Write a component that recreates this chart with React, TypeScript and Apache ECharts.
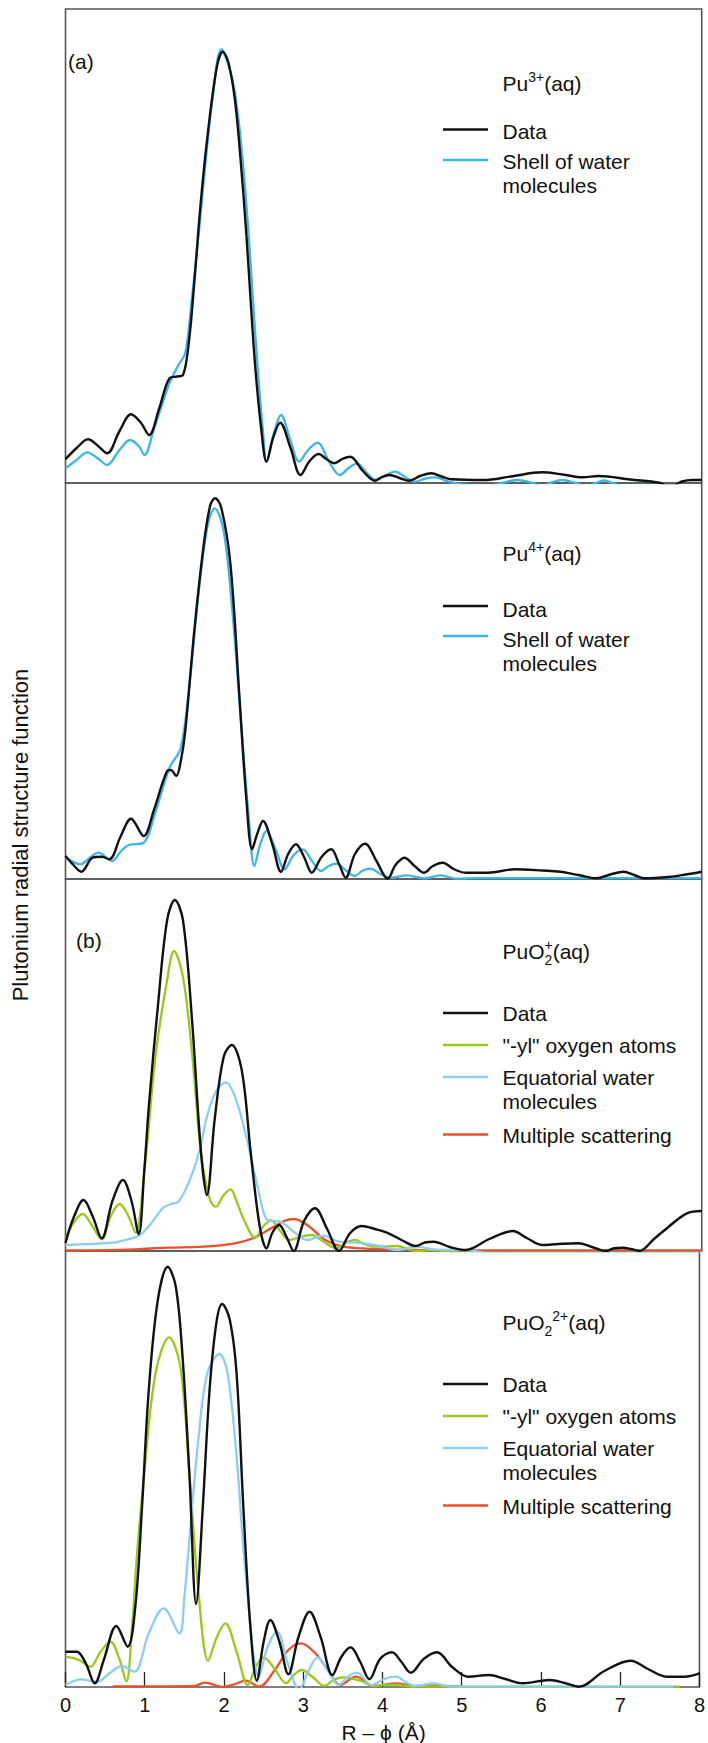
import React, { useEffect, useRef } from "react";
import * as echarts from "echarts";

const W = 708;
const H = 1743;
const FONT = '"Liberation Sans", Arial, Helvetica, sans-serif';

// x axis (R - phi, Å)
const X_MIN = 0;
const X_MAX = 8;
const X_TICK_STEP = 1;

// ---------- Panel 1: Pu3+(aq) ----------
const pu3Data: [number, number][] = [
  [0, 23.7], [0.14, 35], [0.284, 43.7], [0.41, 37], [0.523, 29.7], [0.68, 52], [0.824, 68.7], [0.95, 60],
  [1.051, 48], [1.18, 75], [1.307, 104.7], [1.4, 106.5], [1.477, 108], [1.55, 140], [1.619, 200], [1.7, 280],
  [1.79, 350], [1.903, 416], [1.977, 431.3], [2.05, 420], [2.131, 383], [2.2, 325], [2.273, 250], [2.33, 180],
  [2.386, 116], [2.46, 55], [2.528, 21.3], [2.61, 45], [2.699, 60.3], [2.83, 35], [2.955, 8], [3.07, 22],
  [3.182, 29], [3.28, 24], [3.381, 19.7], [3.48, 24], [3.58, 26.3], [3.74, 12], [3.892, 2.3], [3.98, 6],
  [4.074, 8], [4.2, 5], [4.318, 2.3], [4.46, 7], [4.602, 9.7], [4.73, 6.5], [4.858, 3.7], [5.256, 3],
  [5.6, 6.5], [5.994, 10.7], [6.25, 8.5], [6.506, 5.7], [6.705, 7], [7.1, 3.5], [7.472, 0.3], [7.55, -2.5],
  [7.64, -2.5], [7.75, 1.5], [7.88, 3], [8, 3],
];
const pu3Shell: [number, number][] = [
  [0, 14.7], [0.14, 23], [0.273, 30.7], [0.4, 25], [0.523, 18], [0.67, 32], [0.813, 43], [0.92, 37],
  [0.994, 28], [1.108, 53], [1.2, 75], [1.307, 99.7], [1.42, 118], [1.506, 130], [1.59, 185], [1.676, 250],
  [1.76, 320], [1.847, 383], [1.96, 433.7], [2.05, 418], [2.131, 390], [2.22, 330], [2.301, 250], [2.36, 180],
  [2.415, 116], [2.48, 55], [2.528, 21.3], [2.62, 50], [2.71, 68], [2.82, 45], [2.938, 21.3], [3.05, 33],
  [3.17, 40.3], [3.31, 22], [3.449, 8], [3.56, 15], [3.665, 19.7], [3.79, 10], [3.903, 3], [4.03, 8],
  [4.148, 11.3], [4.27, 6], [4.392, 1.3], [4.53, 4.5], [4.659, 5.7], [4.77, 2.5], [4.858, 0.7], [5.0, -1.5],
  [5.3, -3], [5.5, 0.3], [5.68, 3], [5.86, 0.3], [6.0, -3], [6.1, 0.3], [6.25, 3], [6.4, 0.3], [6.55, -3],
  [6.68, 0.3], [6.77, 2.5], [6.87, 0.3], [7.0, -3], [8, -3],
];

// ---------- Panel 2: Pu4+(aq) ----------
const pu4Data: [number, number][] = [
  [0, 23], [0.1, 14], [0.199, 7.3], [0.341, 21.3], [0.455, 22.3], [0.551, 19.7], [0.69, 42], [0.824, 60.3],
  [0.983, 43], [1.108, 68], [1.278, 108], [1.324, 109], [1.392, 103], [1.45, 118], [1.506, 148], [1.619, 248],
  [1.733, 331], [1.818, 373], [1.881, 380.7], [1.96, 371], [2.074, 315], [2.188, 181], [2.273, 81],
  [2.347, 29.7], [2.41, 45], [2.483, 58], [2.6, 35], [2.71, 7.3], [2.8, 25], [2.898, 34.7], [3.0, 22],
  [3.097, 6.3], [3.22, 22], [3.341, 29.7], [3.44, 15], [3.523, 1.3], [3.64, 25], [3.767, 35.3], [3.91, 18],
  [4.051, 0.3], [4.15, 14], [4.261, 21.3], [4.39, 13], [4.506, 6.3], [4.62, 13], [4.744, 16.3], [4.88, 10],
  [5.028, 6.3], [5.313, 6.3], [5.653, 9.7], [6.0, 8.5], [6.222, 7.3], [6.45, 4], [6.676, 0.7], [6.85, 4.5],
  [7.017, 7.3], [7.15, 4], [7.273, 0.7], [7.585, 2], [7.8, 4.5], [8, 7.3],
];
const pu4Shell: [number, number][] = [
  [0, 22], [0.188, 14.7], [0.3, 21], [0.415, 26.3], [0.585, 18], [0.7, 28], [0.795, 34], [0.983, 36.3],
  [1.108, 61], [1.307, 111], [1.449, 131], [1.563, 198], [1.676, 288], [1.79, 354.7], [1.875, 370.7],
  [1.989, 348], [2.102, 264.7], [2.216, 148], [2.301, 64.7], [2.375, 13], [2.45, 35], [2.528, 48], [2.64, 30],
  [2.756, 9.7], [2.87, 24], [2.983, 29.7], [3.1, 18], [3.21, 8], [3.31, 13], [3.409, 15.3], [3.52, 9],
  [3.636, 3], [3.73, 8], [3.835, 10.3], [3.96, 5], [4.09, 1.3], [4.29, 3.7], [4.517, 0.7], [4.716, 3.7],
  [4.915, 0.3], [5.2, 0.8], [8, 0.8],
];

// ---------- Panel 3: PuO2+(aq) ----------
const puo2pData: [number, number][] = [
  [0, 8], [0.1, 33], [0.227, 51], [0.34, 35], [0.455, 12.7], [0.59, 50], [0.722, 71], [0.83, 50], [0.92, 17],
  [0.99, 80], [1.051, 147.7], [1.165, 247.7], [1.278, 331], [1.375, 351], [1.477, 331], [1.591, 231],
  [1.705, 97.7], [1.778, 56], [1.875, 131], [1.989, 194.3], [2.091, 206], [2.216, 181], [2.33, 97.7],
  [2.443, 24.3], [2.528, 2.7], [2.6, 18], [2.688, 26], [2.78, 14], [2.869, 0], [3.0, 30], [3.136, 42.7],
  [3.29, 22], [3.438, 0], [3.58, 18], [3.722, 25], [3.89, 22], [4.062, 17.7], [4.25, 10], [4.403, 5],
  [4.52, 8.5], [4.631, 9.3], [4.83, 4], [5.028, 1], [5.33, 12], [5.625, 20], [5.8, 13], [5.994, 6], [6.2, 7],
  [6.449, 7.7], [6.62, 4], [6.79, 0], [6.9, 2.8], [7.006, 3.3], [7.11, 2], [7.216, 0], [7.4, 12],
  [7.585, 24.3], [7.813, 37.7], [8, 40],
];
const puo2pYl: [number, number][] = [
  [0, 12], [0.1, 28], [0.216, 37], [0.33, 26], [0.455, 11.7], [0.57, 35], [0.682, 47], [0.79, 35],
  [0.88, 18.3], [0.994, 81], [1.136, 197.7], [1.278, 271], [1.364, 300], [1.477, 274.3], [1.591, 197.7],
  [1.705, 97.7], [1.818, 51], [1.892, 44.3], [1.98, 55], [2.074, 61.7], [2.16, 48], [2.244, 31],
  [2.386, 13.3], [2.49, 25], [2.585, 30.3], [2.7, 20], [2.812, 11], [2.95, 14], [3.097, 16], [3.25, 9],
  [3.409, 2.7], [3.52, 8], [3.636, 11], [3.76, 7], [3.892, 4.3], [4.04, 4.5], [4.176, 5], [4.3, 2],
  [4.403, 0], [4.6, 0.8], [5.0, -2], [8, -2],
];
const puo2pEq: [number, number][] = [
  [0, 6], [0.3, 7], [0.597, 8.3], [0.8, 12], [0.938, 16], [1.08, 28], [1.222, 42.7], [1.32, 47], [1.42, 49.3],
  [1.563, 71], [1.676, 97.7], [1.79, 137.7], [1.903, 161], [2.017, 168.7], [2.131, 154.3], [2.273, 114.3],
  [2.415, 64.3], [2.528, 31.7], [2.62, 30], [2.699, 29.3], [2.869, 19.3], [3.04, 11], [3.239, 15.3],
  [3.438, 9.3], [3.665, 8.3], [3.949, 5], [4.176, 1], [4.403, 4.3], [4.631, 1.7], [4.858, 1], [5.1, 0.5],
  [5.3, -2], [8, -2],
];
const puo2pMs: [number, number][] = [
  [0, 0.5], [0.5, 0.8], [0.88, 1.7], [1.28, 3.3], [1.733, 4.3], [2.131, 7.7], [2.358, 12.7], [2.585, 22.7],
  [2.75, 30], [2.869, 32], [3.04, 26], [3.267, 11], [3.494, 4.3], [3.722, 2.7], [4.0, 1.7], [4.4, 1],
  [4.8, 0.6], [8, 0.6],
];

// ---------- Panel 4: PuO2 2+(aq) ----------
const puo2ppData: [number, number][] = [
  [0, 35.3], [0.142, 35.3], [0.256, 23.7], [0.369, 3.7], [0.483, 27], [0.642, 61], [0.784, 40.3],
  [0.881, 80.3], [0.966, 180.3], [1.051, 297], [1.165, 387], [1.29, 420.3], [1.392, 400.3], [1.477, 330.3],
  [1.563, 213.7], [1.648, 83], [1.733, 180.3], [1.818, 297], [1.903, 363.7], [1.977, 383], [2.074, 367],
  [2.159, 313.7], [2.244, 180.3], [2.33, 63.7], [2.415, 6.3], [2.5, 45], [2.585, 67], [2.7, 45],
  [2.812, 12.7], [2.94, 50], [3.08, 75.3], [3.22, 50], [3.369, 12], [3.48, 30], [3.597, 39.7], [3.72, 25],
  [3.835, 7.7], [3.97, 28], [4.119, 34.7], [4.24, 25], [4.358, 14.3], [4.52, 28], [4.688, 34.7], [4.88, 20],
  [5.085, 10.3], [5.341, 12], [5.55, 8], [5.767, 3.7], [6.108, 7], [6.3, 4], [6.477, 0.3], [6.8, 16],
  [7.131, 26.3], [7.35, 18], [7.585, 10.3], [7.813, 10.3], [8, 13.7],
];
const puo2ppYl: [number, number][] = [
  [0, 30.3], [0.17, 27], [0.313, 20.3], [0.44, 35], [0.568, 45.3], [0.68, 28], [0.767, 5.3], [0.84, 60],
  [0.9, 130], [0.994, 213.7], [1.136, 313.7], [1.307, 349.7], [1.449, 320.3], [1.563, 213.7], [1.676, 97],
  [1.801, 26.3], [1.91, 50], [2.017, 63.7], [2.16, 35], [2.301, 2], [2.4, 20], [2.5, 29.7], [2.64, 18],
  [2.784, 3.7], [2.88, 12], [2.983, 17], [3.12, 10], [3.267, 1], [3.38, 7], [3.494, 9.7], [3.722, 6.3],
  [3.892, 1], [4.0, 2], [4.176, 2], [4.4, 0.3], [7.75, 0.3],
];
const puo2ppEq: [number, number][] = [
  [0, 2], [0.199, 7.7], [0.398, 5.3], [0.56, 14], [0.71, 21], [0.869, 15.3], [1.051, 53.7], [1.239, 78.7],
  [1.438, 53.7], [1.5, 90], [1.563, 147], [1.676, 247], [1.79, 313.7], [1.943, 333], [2.045, 313.7],
  [2.159, 230.3], [2.273, 113.7], [2.443, 10.3], [2.55, 40], [2.67, 55.3], [2.8, 25], [2.95, -3], [3.06, 15],
  [3.182, 29.7], [3.32, 15], [3.449, 2], [3.56, 10], [3.676, 14.3], [3.864, 2], [4.02, 8], [4.176, 10.3],
  [4.29, 5], [4.403, 1], [4.659, 3.7], [4.85, 0.3], [7.67, 0.3],
];
const puo2ppMs: [number, number][] = [
  [0.597, 0.5], [1.2, 0.6], [1.62, 1], [1.76, 4.3], [1.989, 0], [2.14, 3], [2.273, 6.3], [2.443, 0.3],
  [2.642, 17], [2.812, 37], [2.972, 43.7], [3.153, 33.7], [3.324, 15.3], [3.466, 2], [3.665, 10.3],
  [3.892, 1], [4.176, 3.7], [4.45, 0.5], [4.69, 1.7], [4.9, 0.5], [5.0, 0.5],
];

// Legend / label texts
const LABEL_DATA = "Data";
const LABEL_SHELL = "Shell of water\nmolecules";
const LABEL_YL = '"-yl" oxygen atoms';
const LABEL_EQ = "Equatorial water\nmolecules";
const LABEL_MS = "Multiple scattering";
const Y_TITLE = "Plutonium radial structure function";
const X_TITLE = "R \u2013 \u03d5 (\u00c5)";

const C_BLACK = "#111111";
const C_BLUE1 = "#3fb4e6";
const C_BLUE2 = "#8ccdf0";
const C_GREEN = "#99c91a";
const C_RED = "#e8502a";

// layout (px)
const GRID_LEFT = 65.5;
const GRID_RIGHT = 6.3;
const PANELS = [
  { top: 9, height: 474 },
  { top: 483, height: 396 },
  { top: 879, height: 372 },
  { top: 1251, height: 436 },
];

function measure(text: string, size: number): number {
  const c = document.createElement("canvas").getContext("2d");
  if (!c) return text.length * size * 0.55;
  c.font = `${size}px ${FONT}`;
  return c.measureText(text).width;
}

type Part = { t: string; k: "n" | "sup" | "sub"; stackWithPrev?: boolean };

function titleElements(x: number, y: number, parts: Part[]) {
  const els: any[] = [];
  let cx = x;
  let lastStart = x;
  let lastW = 0;
  for (const p of parts) {
    const size = p.k === "n" ? 21 : 14;
    const dy = p.k === "sup" ? -6 : p.k === "sub" ? 9 : 0;
    const w = measure(p.t, size);
    let px = cx;
    if (p.stackWithPrev) {
      px = lastStart;
    }
    els.push({
      type: "text",
      x: px,
      y: y + dy,
      style: {
        text: p.t,
        font: `${size}px ${FONT}`,
        fill: C_BLACK,
        textAlign: "left",
        textVerticalAlign: "middle",
      },
    });
    if (p.stackWithPrev) {
      cx = lastStart + Math.max(lastW, w);
    } else {
      lastStart = px;
      lastW = w;
      cx = px + w;
    }
  }
  return els;
}

function legendEntry(y: number, color: string, label: string, textDy = 1.5) {
  return [
    {
      type: "line",
      shape: { x1: 443, y1: y, x2: 488, y2: y },
      style: { stroke: color, lineWidth: 2.5 },
    },
    {
      type: "text",
      x: 502.5,
      y: y + textDy - 12,
      style: {
        text: label,
        font: `21px ${FONT}`,
        fill: C_BLACK,
        textAlign: "left",
        textVerticalAlign: "top",
        lineHeight: 24,
      },
    },
  ];
}

export default function App() {
  const ref = useRef<HTMLDivElement>(null);

  useEffect(() => {
    if (!ref.current) return;
    const chart = echarts.init(ref.current, null, { renderer: "svg", width: W, height: H });

    const grids = PANELS.map((p) => ({
      left: GRID_LEFT,
      right: GRID_RIGHT,
      top: p.top,
      height: p.height,
      show: true,
      borderColor: "#555555",
      borderWidth: 1.6,
      backgroundColor: "transparent",
    }));

    const xAxes = PANELS.map((_, i) => ({
      type: "value",
      gridIndex: i,
      min: X_MIN,
      max: X_MAX,
      interval: X_TICK_STEP,
      axisLine: { show: false },
      splitLine: { show: false },
      axisTick: {
        show: i === 3,
        inside: true,
        length: 15,
        lineStyle: { color: "#222222", width: 1.3 },
      },
      axisLabel: {
        show: i === 3,
        fontSize: 20,
        fontFamily: FONT,
        color: C_BLACK,
        margin: 8,
      },
    }));

    const yAxes = PANELS.map((p, i) => ({
      type: "value",
      gridIndex: i,
      min: 0,
      max: p.height,
      show: false,
    }));

    const mk = (data: [number, number][], idx: number, color: string, z: number, width: number) => ({
      type: "line",
      xAxisIndex: idx,
      yAxisIndex: idx,
      data,
      smooth: 0.35,
      symbol: "none",
      showSymbol: false,
      clip: true,
      z,
      lineStyle: { color, width },
      emphasis: { disabled: true },
    });

    const series = [
      mk(pu3Shell, 0, C_BLUE1, 2, 2.3),
      mk(pu3Data, 0, C_BLACK, 3, 2.4),
      mk(pu4Shell, 1, C_BLUE1, 2, 2.3),
      mk(pu4Data, 1, C_BLACK, 3, 2.4),
      mk(puo2pMs, 2, C_RED, 2, 2.3),
      mk(puo2pYl, 2, C_GREEN, 2, 2.3),
      mk(puo2pEq, 2, C_BLUE2, 2, 2.3),
      mk(puo2pData, 2, C_BLACK, 3, 2.4),
      mk(puo2ppMs, 3, C_RED, 2, 2.3),
      mk(puo2ppYl, 3, C_GREEN, 2, 2.3),
      mk(puo2ppEq, 3, C_BLUE2, 2, 2.3),
      mk(puo2ppData, 3, C_BLACK, 3, 2.4),
    ];

    const graphic: any[] = [
      // panel labels
      {
        type: "text",
        x: 68,
        y: 61,
        style: { text: "(a)", font: `21px ${FONT}`, fill: C_BLACK, textAlign: "left", textVerticalAlign: "middle" },
      },
      {
        type: "text",
        x: 76,
        y: 940,
        style: { text: "(b)", font: `21px ${FONT}`, fill: C_BLACK, textAlign: "left", textVerticalAlign: "middle" },
      },
      // titles
      ...titleElements(502.5, 83, [
        { t: "Pu", k: "n" },
        { t: "3+", k: "sup" },
        { t: "(aq)", k: "n" },
      ]),
      ...titleElements(502.5, 553, [
        { t: "Pu", k: "n" },
        { t: "4+", k: "sup" },
        { t: "(aq)", k: "n" },
      ]),
      ...titleElements(502.5, 951, [
        { t: "PuO", k: "n" },
        { t: "2", k: "sub" },
        { t: "+", k: "sup", stackWithPrev: true },
        { t: "(aq)", k: "n" },
      ]),
      ...titleElements(502.5, 1322, [
        { t: "PuO", k: "n" },
        { t: "2", k: "sub" },
        { t: "2+", k: "sup" },
        { t: "(aq)", k: "n" },
      ]),
      // legends panel 1
      ...legendEntry(129.5, C_BLACK, LABEL_DATA),
      ...legendEntry(160, C_BLUE1, LABEL_SHELL),
      // legends panel 2
      ...legendEntry(606, C_BLACK, LABEL_DATA, 3),
      ...legendEntry(636, C_BLUE1, LABEL_SHELL, 3),
      // legends panel 3
      ...legendEntry(880 + 133, C_BLACK, LABEL_DATA, 0.5),
      ...legendEntry(880 + 165, C_GREEN, LABEL_YL, 0.5),
      ...legendEntry(880 + 197, C_BLUE2, LABEL_EQ, 0.5),
      ...legendEntry(880 + 254.5, C_RED, LABEL_MS, 0.5),
      // legends panel 4
      ...legendEntry(1251 + 133, C_BLACK, LABEL_DATA, 0.5),
      ...legendEntry(1251 + 165, C_GREEN, LABEL_YL, 0.5),
      ...legendEntry(1251 + 197, C_BLUE2, LABEL_EQ, 0.5),
      ...legendEntry(1251 + 254.5, C_RED, LABEL_MS, 0.5),
      // axis titles
      {
        type: "text",
        x: 20,
        y: 835,
        rotation: Math.PI / 2,
        style: { text: Y_TITLE, font: `22px ${FONT}`, fill: C_BLACK, textAlign: "center", textVerticalAlign: "middle" },
      },
      {
        type: "text",
        x: 383.6,
        y: 1732,
        style: { text: X_TITLE, font: `21px ${FONT}`, fill: C_BLACK, textAlign: "center", textVerticalAlign: "middle" },
      },
    ];

    chart.setOption({
      animation: false,
      backgroundColor: "#ffffff",
      grid: grids,
      xAxis: xAxes,
      yAxis: yAxes,
      series,
      graphic,
    });

    return () => chart.dispose();
  }, []);

  return <div ref={ref} style={{ position: "absolute", left: 0, top: 0, width: W, height: H }} />;
}
